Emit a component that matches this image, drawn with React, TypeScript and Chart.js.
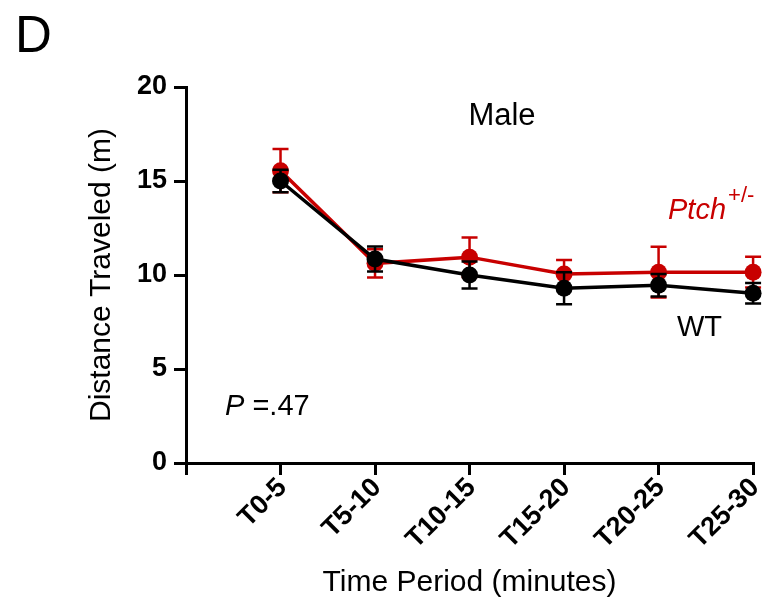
import { useEffect, useRef } from 'react';
import { Chart, registerables } from 'chart.js';

Chart.register(...registerables);

const timePeriods = ['T0-5', 'T5-10', 'T10-15', 'T15-20', 'T20-25', 'T25-30'];
const wtMean = [15.0, 10.85, 10.0, 9.3, 9.45, 9.03];
const wtSem = [0.6, 0.67, 0.72, 0.85, 0.6, 0.55];
const ptchMean = [15.55, 10.62, 10.95, 10.05, 10.15, 10.15];
const ptchSem = [1.15, 0.75, 1.05, 0.75, 1.35, 0.82];
const yMin = 0;
const yMax = 20;
const yStep = 5;

const FONT = '"Liberation Sans", Arial, Helvetica, sans-serif';
const RED = '#C80000';
const BLACK = '#000000';

const errorSets = [wtSem, ptchSem];

const errorBarPlugin = {
  id: 'errorBars',
  beforeDatasetDraw(chart: any, args: any) {
    const idx = args.index;
    const ds = chart.data.datasets[idx];
    const sem = errorSets[idx];
    const meta = args.meta;
    const yScale = chart.scales.y;
    const ctx = chart.ctx;
    ctx.save();
    ctx.strokeStyle = ds.borderColor;
    ctx.lineWidth = 2.5;
    meta.data.forEach((pt: any, i: number) => {
      const v = ds.data[i].y;
      const x = pt.x;
      const yTop = yScale.getPixelForValue(v + sem[i]);
      const yBot = yScale.getPixelForValue(v - sem[i]);
      ctx.beginPath();
      ctx.moveTo(x, yTop);
      ctx.lineTo(x, yBot);
      ctx.moveTo(x - 8, yTop);
      ctx.lineTo(x + 8, yTop);
      ctx.moveTo(x - 8, yBot);
      ctx.lineTo(x + 8, yBot);
      ctx.stroke();
    });
    ctx.restore();
  },
};

const annotationPlugin = {
  id: 'annotations',
  afterDraw(chart: any) {
    const ctx = chart.ctx;
    ctx.save();
    ctx.textBaseline = 'alphabetic';
    ctx.fillStyle = BLACK;
    // Panel letter
    ctx.textAlign = 'left';
    ctx.font = `51px ${FONT}`;
    ctx.fillText('D', 15, 52);
    // Male
    ctx.textAlign = 'center';
    ctx.font = `31px ${FONT}`;
    ctx.fillText('Male', 502, 125);
    // P value
    ctx.textAlign = 'left';
    ctx.font = `italic 29px ${FONT}`;
    ctx.fillText('P', 225, 415);
    const pw = ctx.measureText('P').width;
    ctx.font = `29px ${FONT}`;
    ctx.fillText(' =.47', 225 + pw, 415);
    // WT label
    ctx.font = `29px ${FONT}`;
    ctx.fillText('WT', 677, 336);
    // Ptch label
    ctx.fillStyle = RED;
    ctx.font = `italic 29px ${FONT}`;
    ctx.fillText('Ptch', 668, 219);
    const tw = ctx.measureText('Ptch').width;
    ctx.font = `22px ${FONT}`;
    ctx.fillText('+/-', 668 + tw + 2, 202);
    ctx.restore();
  },
};

export default function App() {
  const canvasRef = useRef<HTMLCanvasElement | null>(null);

  useEffect(() => {
    const canvas = canvasRef.current;
    if (!canvas) return;
    const tickFont = { family: FONT, size: 27, weight: 'bold' as const };
    const titleFont = { family: FONT, size: 30, weight: 'normal' as const };
    const chart = new Chart(canvas, {
      type: 'line',
      data: {
        datasets: [
          {
            label: 'WT',
            data: wtMean.map((v, i) => ({ x: i + 1, y: v })),
            borderColor: BLACK,
            backgroundColor: BLACK,
            pointBackgroundColor: BLACK,
            pointBorderColor: BLACK,
            borderWidth: 3.5,
            pointRadius: 8.5,
            pointHoverRadius: 8.5,
            pointBorderWidth: 0,
            tension: 0,
            clip: false as any,
          },
          {
            label: 'Ptch+/-',
            data: ptchMean.map((v, i) => ({ x: i + 1, y: v })),
            borderColor: RED,
            backgroundColor: RED,
            pointBackgroundColor: RED,
            pointBorderColor: RED,
            borderWidth: 3.5,
            pointRadius: 8.5,
            pointHoverRadius: 8.5,
            pointBorderWidth: 0,
            tension: 0,
            clip: false as any,
          },
        ],
      },
      options: {
        animation: false,
        responsive: false,
        devicePixelRatio: 1,
        layout: { padding: { left: 0, top: 87, right: 0, bottom: 0 } },
        plugins: {
          legend: { display: false },
          tooltip: { enabled: false },
          title: { display: false },
        },
        events: [],
        scales: {
          x: {
            type: 'linear',
            min: 0,
            max: timePeriods.length,
            afterFit: (s: any) => {
              s.height = 138;
            },
            ticks: {
              stepSize: 1,
              autoSkip: false,
              maxRotation: 45,
              minRotation: 45,
              padding: -3,
              labelOffset: 2,
              color: BLACK,
              font: tickFont,
              callback: (v: any) => (v >= 1 ? timePeriods[v - 1] : ''),
            },
            grid: {
              drawOnChartArea: false,
              drawTicks: true,
              tickLength: 12,
              color: BLACK,
              lineWidth: 3,
            },
            border: { display: true, color: BLACK, width: 3 },
            title: {
              display: true,
              text: 'Time Period (minutes)',
              color: BLACK,
              font: titleFont,
              padding: { top: 0, bottom: 0 },
            },
          },
          y: {
            type: 'linear',
            min: yMin,
            max: yMax,
            afterFit: (s: any) => {
              s.width = 186;
            },
            ticks: {
              stepSize: yStep,
              padding: 7,
              color: BLACK,
              font: tickFont,
            },
            grid: {
              drawOnChartArea: false,
              drawTicks: true,
              tickLength: 12,
              color: BLACK,
              lineWidth: 3,
            },
            border: { display: true, color: BLACK, width: 3 },
            title: {
              display: true,
              text: 'Distance Traveled (m)',
              color: BLACK,
              font: titleFont,
              padding: { top: 84, bottom: 0 },
            },
          },
        },
      },
      plugins: [errorBarPlugin, annotationPlugin],
    });
    return () => chart.destroy();
  }, []);

  return (
    <div style={{ position: 'absolute', left: 0, top: 0, width: 773, height: 601, background: '#fff' }}>
      <canvas ref={canvasRef} width={773} height={601} style={{ display: 'block' }} />
    </div>
  );
}
